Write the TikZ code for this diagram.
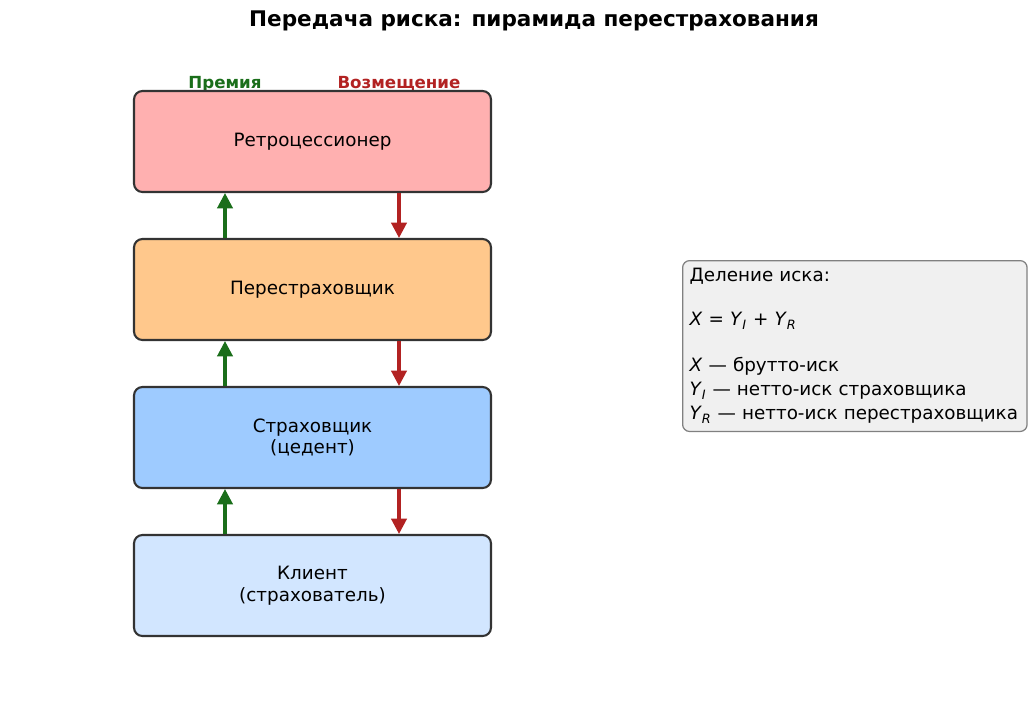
\documentclass[tikz,border=0pt]{standalone}
\usepackage{fontspec}
\setmainfont{DejaVu Sans}
\usetikzlibrary{arrows.meta,positioning}
\definecolor{boxedge}{RGB}{51,51,51}
\definecolor{premgreen}{RGB}{26,110,26}
\definecolor{payred}{RGB}{178,34,34}
\definecolor{retrofill}{RGB}{255,176,176}
\definecolor{reinsfill}{RGB}{255,200,140}
\definecolor{insfill}{RGB}{158,203,255}
\definecolor{clientfill}{RGB}{210,230,255}
\definecolor{notefill}{RGB}{240,240,240}
\definecolor{noteedge}{RGB}{128,128,128}

\begin{document}
\begin{tikzpicture}[x=0.72pt, y=-0.72pt,
    tierbox/.style={draw=boxedge, rounded corners=6pt, line width=1.5pt, minimum width=257pt, minimum height=72.7pt, align=center, font=\fontsize{13.2}{15.5}\selectfont},
    flowlabel/.style={font=\fontsize{12}{14}\selectfont\bfseries},
    premarrow/.style={draw=premgreen, line width=2.2pt, -{Triangle[length=11pt, width=11pt]}},
    payarrow/.style={draw=payred, line width=2.2pt, -{Triangle[length=11pt, width=11pt]}}]
    \useasboundingbox (0,0) rectangle (1029,711);

    % Title
    \node[font=\fontsize{15.5}{18}\selectfont\bfseries] (title) at (534,21) {Передача риска: пирамида перестрахования};

    % Flow labels
    \node[flowlabel, text=premgreen] (prem) at (225,84) {Премия};
    \node[flowlabel, text=payred] (comp) at (399,84) {Возмещение};

    % Tiers
    \node[tierbox, fill=retrofill] (retro) at (312.5,141.5) {Ретроцессионер};
    \node[tierbox, fill=reinsfill] (reins) at (312.5,289.5) {Перестраховщик};
    \node[tierbox, fill=insfill] (insurer) at (312.5,437.5) {Страховщик\\(цедент)};
    \node[tierbox, fill=clientfill] (client) at (312.5,585.5) {Клиент\\(страхователь)};

    % Premiums up, claims down
    \foreach \lo/\hi in {reins/retro, insurer/reins, client/insurer} {
        \draw[premarrow] (\lo.north -| prem) -- (\hi.south -| prem);
        \draw[payarrow] (\hi.south -| comp) -- (\lo.north -| comp);
    }

    % Claim split
    \node[draw=noteedge, fill=notefill, rounded corners=5pt, line width=0.9pt, anchor=north west,
          text width=238pt, minimum height=123pt, inner xsep=5pt, align=left,
          font=\fontsize{13.2}{17.3}\selectfont] (note) at (682,260) {%
        Деление иска:\\[14pt]
        \textit{X} = \textit{Y}\textsubscript{\textit{I}} + \textit{Y}\textsubscript{\textit{R}}\\[16pt]
        \textit{X} — брутто-иск\\
        \textit{Y}\textsubscript{\textit{I}} — нетто-иск страховщика\\
        \textit{Y}\textsubscript{\textit{R}} — нетто-иск перестраховщика};
\end{tikzpicture}
\end{document}
